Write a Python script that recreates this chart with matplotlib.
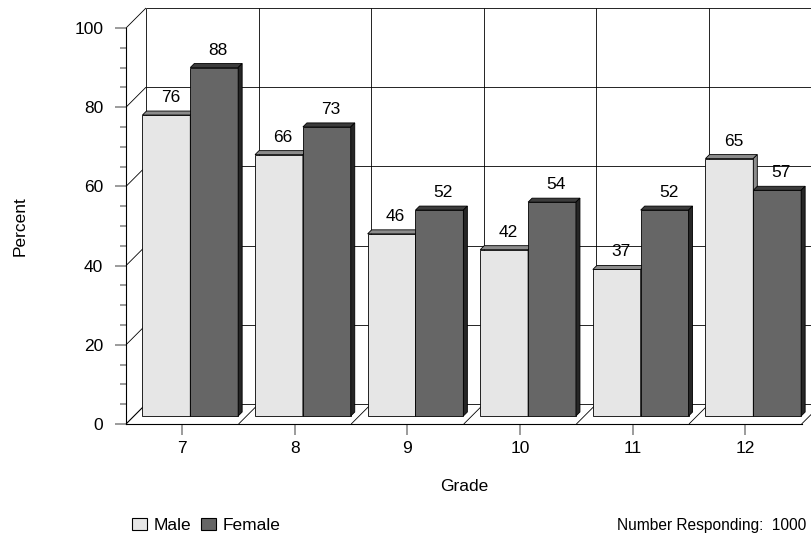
import matplotlib
matplotlib.use('Agg')
import matplotlib.pyplot as plt
from matplotlib.patches import Polygon, Patch
from matplotlib.ticker import MultipleLocator

plt.rcParams['font.family'] = ['Liberation Sans', 'DejaVu Sans']

grades = ['7', '8', '9', '10', '11', '12']
male = [76, 66, 46, 42, 37, 65]
female = [88, 73, 52, 54, 52, 57]
yticks = [0, 20, 40, 60, 80, 100]
series_names = ['Male', 'Female']
note = 'Number Responding:  1000'

W, H = 812, 533
fig = plt.figure(figsize=(W / 100, H / 100), dpi=100)
ax = fig.add_axes([126 / W, (H - 424) / H, (801.6 - 126) / W, (424 - 28) / H])
ax.set_xlim(-0.5, len(grades) - 0.5)
ax.set_ylim(0, 100)
ax.patch.set_visible(False)

# pixel -> data conversion for depth offsets
p0 = ax.transData.transform((0, 0))
p1 = ax.transData.transform((1, 1))
sx, sy = p1[0] - p0[0], p1[1] - p0[1]
def dx(d):
    return d / sx
def dy(d):
    return d / sy

DEPTH = 20
BF, BB = 8, 12  # bar front / back depth (px)
grid_kw = dict(color='black', lw=0.6, zorder=1, clip_on=False, solid_capstyle='butt')

bounds = [i - 0.5 for i in range(len(grades) + 1)]
# back wall horizontal grid + left wall diagonals
for v in yticks:
    ax.plot([-0.5 + dx(DEPTH), bounds[-1] + dx(DEPTH)], [v + dy(DEPTH)] * 2, **grid_kw)
    ax.plot([-0.5, -0.5 + dx(DEPTH)], [v, v + dy(DEPTH)], **grid_kw)
# back wall verticals + floor diagonals
for b in bounds:
    ax.plot([b + dx(DEPTH)] * 2, [dy(DEPTH), 100 + dy(DEPTH)], **grid_kw)
    ax.plot([b, b + dx(DEPTH)], [0, dy(DEPTH)], **grid_kw)

bw = 0.425
styles = [
    dict(front='#e6e6e6', top='#8c8c8c', side='#8c8c8c'),
    dict(front='#666666', top='#3c3c3c', side='#262626'),
]
z = 3
for i in range(len(grades)):
    for s, vals in enumerate([male, female]):
        v = vals[i]
        x0 = i - bw if s == 0 else i
        x1 = x0 + bw
        st = styles[s]
        front = [(x0 + dx(BF), dy(BF)), (x1 + dx(BF), dy(BF)),
                 (x1 + dx(BF), v + dy(BF)), (x0 + dx(BF), v + dy(BF))]
        top = [(x0 + dx(BF), v + dy(BF)), (x1 + dx(BF), v + dy(BF)),
               (x1 + dx(BB), v + dy(BB)), (x0 + dx(BB), v + dy(BB))]
        side = [(x1 + dx(BF), dy(BF)), (x1 + dx(BB), dy(BB)),
                (x1 + dx(BB), v + dy(BB)), (x1 + dx(BF), v + dy(BF))]
        for poly, col in [(front, st['front']), (top, st['top']), (side, st['side'])]:
            ax.add_patch(Polygon(poly, closed=True, fc=col, ec='black', lw=0.6,
                                 zorder=z, clip_on=False, joinstyle='miter'))
        z += 1
        ax.annotate(str(v), xy=(x0 + bw / 2, v), xytext=(12, 21),
                    textcoords='offset pixels', ha='center', va='baseline',
                    fontsize=12.5, zorder=100, annotation_clip=False)

# axes styling
for sp in ['top', 'right']:
    ax.spines[sp].set_visible(False)
for sp in ['left', 'bottom']:
    ax.spines[sp].set_color('black')
    ax.spines[sp].set_linewidth(0.8)
    ax.spines[sp].set_zorder(2)

ax.set_yticks(yticks)
ax.yaxis.set_minor_locator(MultipleLocator(5))
ax.set_xticks(range(len(grades)))
ax.set_xticklabels(grades)
ax.tick_params(axis='y', which='major', length=7.9, width=1.1, color='#808080',
               labelsize=12.5, pad=8.4)
ax.tick_params(axis='y', which='minor', length=4.6, width=1.1, color='#808080')
ax.tick_params(axis='x', which='major', length=7.9, width=1.1, color='#808080',
               labelsize=12.5, pad=4.0)

ax.set_ylabel('Percent', fontsize=12.5)
ax.yaxis.set_label_coords(-0.145, 0.5)
ax.set_xlabel('Grade', fontsize=12.5)
ax.xaxis.set_label_coords(0.5, -0.139)

handles = [Patch(fc=styles[0]['front'], ec='black', lw=0.8, label=series_names[0]),
           Patch(fc=styles[1]['front'], ec='black', lw=0.8, label=series_names[1])]
fig.legend(handles=handles, loc='lower left', bbox_to_anchor=(131.7 / W, 0.0),
           ncol=2, frameon=False, fontsize=12.5, handlelength=0.86, handleheight=0.63,
           handletextpad=0.38, columnspacing=0.6, borderpad=0, borderaxespad=0)

fig.text(806.7 / W, 3 / H, note, ha='right', va='baseline', fontsize=11.2)

fig.savefig('out.png', dpi=100)
